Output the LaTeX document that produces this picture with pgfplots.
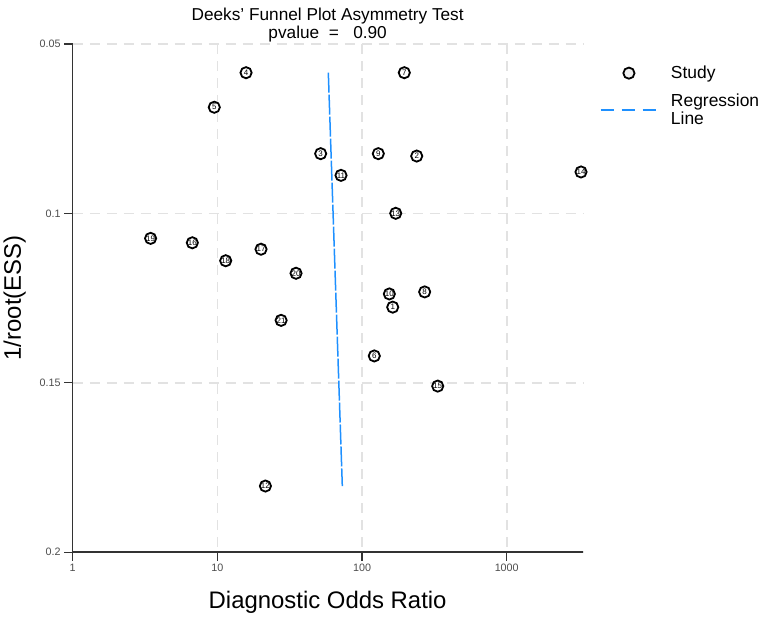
\documentclass[border=0pt]{standalone}
\usepackage{pgfplots}
\pgfplotsset{compat=1.18}
\usepackage{fontspec}
\setmainfont{Liberation Sans}

\definecolor{regblue}{RGB}{30,144,255}
\definecolor{gridgray}{RGB}{226,226,226}
\definecolor{axisdark}{RGB}{51,51,51}
\definecolor{ticktext}{RGB}{77,77,77}

% Study-level estimates: diagnostic odds ratio and 1/sqrt(effective sample size)
\pgfplotstableread{
x      y       id
163    0.1277  1
238.8  0.0831  2
51.8   0.0824  3
15.8   0.0585  4
9.53   0.0687  5
121.6  0.1421  6
196    0.0585  7
271    0.1232  8
129.6  0.0824  9
154.5  0.1238  10
71.6   0.0888  11
21.5   0.1805  12
171    0.1000  13
3262   0.0878  14
333.6  0.1510  15
6.72   0.1087  16
20.05  0.1106  17
11.43  0.1140  18
3.46   0.1074  19
35.0   0.1177  20
27.6   0.1316  21
}\studies

\begin{document}
\begin{tikzpicture}
\begin{axis}[
  scale only axis,
  width=510.1bp, height=508.2bp,
  xmode=log, xmin=1, xmax=3350,
  ymin=0.05, ymax=0.2, y dir=reverse,
  clip=false,
  axis x line*=bottom, axis y line*=left,
  axis line style={axisdark, line width=1.4bp, -},
  tick style={axisdark, line width=1.2bp},
  tick align=outside, major tick length=8.5bp,
  xminorticks=false, yminorticks=false,
  xtick={1,10,100,1000}, xticklabels={1,10,100,1000},
  ytick={0.05,0.1,0.15,0.2}, yticklabels={0.05,0.1,0.15,0.2},
  ticklabel style={font=\fontsize{10.8}{12}\selectfont, text=ticktext},
  /pgf/number format/assume math mode=true,
  grid=major,
  major grid style={gridgray, line width=1.6bp, dash pattern=on 10bp off 7bp},
  title={Deeks' Funnel Plot Asymmetry Test\\pvalue\ \ =\ \ \ 0.90},
  title style={font=\fontsize{17.3}{18}\selectfont, align=center, at={(0.5,1)}, anchor=south, yshift=-8bp},
  xlabel={Diagnostic Odds Ratio},
  xlabel style={font=\fontsize{24}{28}\selectfont},
  xlabel shift=13bp,
  ylabel={1/root(ESS)},
  ylabel style={font=\fontsize{24}{28}\selectfont},
  ylabel shift=7bp,
  legend style={draw=none, fill=none, at={(1,1)}, anchor=north west,
    xshift=14bp, yshift=-18bp,
    font=\fontsize{17.5}{17.5}\selectfont, row sep=10bp,
    /tikz/every odd column/.append style={column sep=11bp}},
  legend cell align=left,
]
\coordinate (A) at (axis cs:1,0.2);
\addplot[only marks, mark=*, mark size=5.6bp,
  mark options={draw=black, fill=white, line width=1.8bp},
  point meta=explicit symbolic,
  nodes near coords,
  every node near coord/.append style={anchor=center, inner sep=0pt,
    font=\fontsize{8}{8}\selectfont, text=black},
  legend image code/.code={
    \path[draw=none] (0bp,0bp) -- (56.6bp,0bp);
    \draw[black, line width=1.8bp, fill=gray!12] (28.3bp,0bp) circle[radius=5.6bp];}
] table[x=x, y=y, meta=id] {\studies};
\addlegendentry{Study}

\addplot[regblue, line width=1.5bp, dash pattern=on 20bp off 2bp,
  legend image code/.code={
    \draw[regblue, line width=1.5bp, dash pattern=on 13bp off 8bp] (0bp,0bp) -- (56.6bp,0bp);}
] coordinates {(58.5,0.0585) (73.1,0.1805)};
\addlegendentry[align=left]{Regression\\Line}
\end{axis}
\pgfresetboundingbox
\path[use as bounding box] ([shift={(-72.6bp,-67.9bp)}]A) rectangle ([shift={(697.4bp,552.1bp)}]A);
\end{tikzpicture}
\end{document}
